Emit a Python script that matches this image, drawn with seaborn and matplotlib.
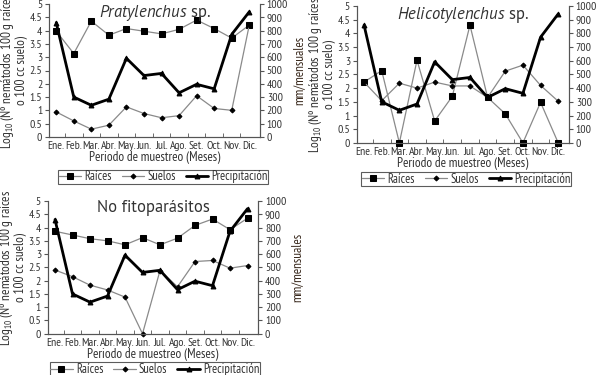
import numpy as np
import pandas as pd
import matplotlib
matplotlib.use("Agg")
import matplotlib.pyplot as plt
import seaborn as sns

# ---------------------------------------
# 1. Data
# ---------------------------------------
meses = ["Ene.", "Feb.", "Mar.", "Abr.", "May.", "Jun.", "Jul.", "Ago.", "Set.", "Oct.", "Nov.", "Dic."]

# precipitation (mm/mensuales), same in every panel
precipitacion = [860, 300, 238, 284, 592, 462, 478, 332, 396, 362, 772, 942]

# Pratylenchus sp.
prat_raices = [3.98, 3.14, 4.36, 3.83, 4.08, 3.98, 3.88, 4.05, 4.40, 4.08, 3.72, 4.21]
prat_suelos = [0.94, 0.60, 0.29, 0.44, 1.13, 0.88, 0.72, 0.80, 1.55, 1.07, 1.00, 4.21]

# Helicotylenchus sp.
heli_raices = [2.22, 2.64, 0.0, 3.02, 0.80, 1.70, 4.30, 1.66, 1.06, 0.0, 1.48, 0.0]
heli_suelos = [2.22, 1.54, 2.18, 2.00, 2.22, 2.08, 2.08, 1.66, 2.62, 2.84, 2.10, 1.52]

# No fitoparasitos
nofi_raices = [3.86, 3.72, 3.58, 3.50, 3.35, 3.62, 3.35, 3.60, 4.08, 4.32, 3.92, 4.35]
nofi_suelos = [2.40, 2.15, 1.83, 1.65, 1.38, 0.0, 2.38, 1.77, 2.72, 2.76, 2.47, 2.57]

# ---------------------------------------
# 2. Style
# ---------------------------------------
sns.set_style("ticks")
NARROW = ["PT Sans Narrow", "Roboto Condensed", "DejaVu Sans"]
REGULAR = ["PT Sans", "DejaVu Sans"]
plt.rcParams["font.family"] = NARROW
plt.rcParams["mathtext.fontset"] = "custom"
plt.rcParams["mathtext.it"] = "PT Sans:italic"
plt.rcParams["mathtext.rm"] = "PT Sans Narrow"
plt.rcParams["text.color"] = "#333333"
plt.rcParams["axes.labelcolor"] = "#333333"
plt.rcParams["xtick.color"] = "#555555"
plt.rcParams["ytick.color"] = "#555555"
plt.rcParams["xtick.labelcolor"] = "#333333"
plt.rcParams["ytick.labelcolor"] = "#333333"

GRAY = "#8a8a8a"
x = np.arange(len(meses))


def draw_panel(ax, title, raices, suelos, leg_xy):
    df = pd.DataFrame({"x": x, "raices": raices, "suelos": suelos, "prec": precipitacion})
    ax2 = ax.twinx()

    sns.lineplot(data=df, x="x", y="raices", ax=ax, color=GRAY, lw=0.9,
                 marker="s", markersize=5, markerfacecolor="black",
                 markeredgecolor="black", clip_on=False, zorder=3, label="Raíces")
    sns.lineplot(data=df, x="x", y="suelos", ax=ax, color=GRAY, lw=0.9,
                 marker="D", markersize=2.5, markerfacecolor="black",
                 markeredgecolor="black", clip_on=False, zorder=3, label="Suelos")
    sns.lineplot(data=df, x="x", y="prec", ax=ax2, color="black", lw=2.0,
                 marker="^", markersize=3.5, markerfacecolor="black",
                 markeredgecolor="black", clip_on=False, zorder=4, label="Precipitación")

    ax.set_ylim(0, 5)
    ax.set_yticks(np.arange(0, 5.01, 0.5))
    ax.set_yticklabels([f"{v:g}" for v in np.arange(0, 5.01, 0.5)])
    ax2.set_ylim(0, 1000)
    ax2.set_yticks(np.arange(0, 1001, 100))
    ax.set_xlim(-0.4, 11.6)

    ax.set_xticks(x)
    ax.set_xticklabels(meses)
    ax.set_xticks(np.arange(0.5, 11, 1), minor=True)
    ax.tick_params(axis="x", which="major", length=0, labelsize=8.5, pad=3)
    ax.tick_params(axis="x", which="minor", length=3, direction="in")
    ax.tick_params(axis="y", length=3, labelsize=8.5, pad=2)
    ax2.tick_params(axis="y", length=3, labelsize=8.5, pad=2)

    for a in (ax, ax2):
        a.spines["top"].set_visible(False)
        for s in ("left", "right", "bottom"):
            a.spines[s].set_color("#555555")
            a.spines[s].set_linewidth(0.8)

    ax.set_xlabel("Periodo de muestreo (Meses)", fontsize=9.5, labelpad=0)
    ax.set_ylabel("Log$_{10}$ (Nº nemátodos 100 g raíces\no 100 cc suelo)",
                  fontsize=9.5, labelpad=1, linespacing=0.9)
    ax2.set_ylabel("mm/mensuales", fontsize=9.5, color="#3a2a1e", labelpad=3)
    ax.text(0.5, 1.01, title, transform=ax.transAxes, ha="center", va="top",
            fontsize=12, family=REGULAR)

    h1, l1 = ax.get_legend_handles_labels()
    h2, l2 = ax2.get_legend_handles_labels()
    ax.get_legend().remove()
    ax2.get_legend().remove()
    leg = ax.get_figure().legend(h1 + h2, l1 + l2, loc="upper center",
                                 bbox_to_anchor=leg_xy, ncol=3,
                                 prop={"size": 9},
                                 frameon=True, fancybox=False, handlelength=1.8,
                                 columnspacing=0.8, handletextpad=0.25,
                                 borderpad=0.05, borderaxespad=0)
    leg.get_frame().set_edgecolor("#333333")
    leg.get_frame().set_linewidth(0.8)


# ---------------------------------------
# 3. Figure
# ---------------------------------------
fig = plt.figure(figsize=(6, 3.75), dpi=100)
ax1 = fig.add_axes([0.082, 0.635, 0.351, 0.354])
ax2 = fig.add_axes([0.595, 0.619, 0.353, 0.365])
ax3 = fig.add_axes([0.080, 0.110, 0.350, 0.354])

draw_panel(ax1, r"$\it{Pratylenchus}$ sp.", prat_raices, prat_suelos, (0.272, 0.547))
draw_panel(ax2, r"$\it{Helicotylenchus}$ sp.", heli_raices, heli_suelos, (0.777, 0.541))
draw_panel(ax3, "No fitoparásitos", nofi_raices, nofi_suelos, (0.258, 0.034))

fig.savefig("out.png", dpi=100)
